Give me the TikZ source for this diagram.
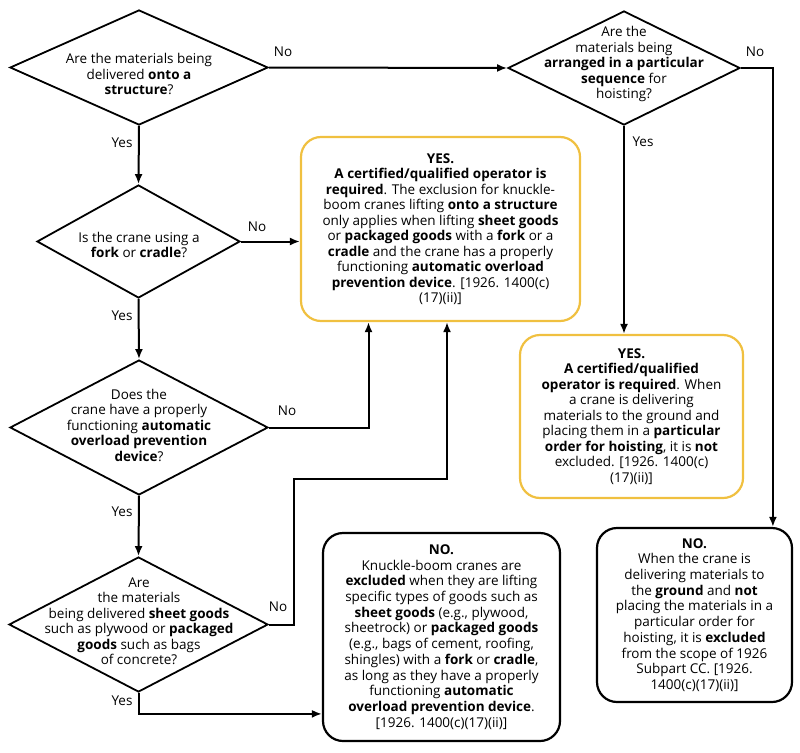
\documentclass[tikz,border=0pt]{standalone}
\usepackage{fontspec}
\setmainfont{Open Sans}
\usetikzlibrary{shapes.geometric,arrows.meta}
\definecolor{answeryellow}{RGB}{240,192,64}

\begin{document}
\begin{tikzpicture}[x=1pt,y=-1pt,line width=2pt,
    decision/.style={draw,diamond,inner sep=0pt,line width=1.8pt},
    qtext/.style={align=center,inner sep=0pt,font=\fontsize{13.5}{15.5}\selectfont},
    yesbox/.style={draw=answeryellow,line width=2.2pt,rounded corners=20pt,align=center,inner sep=0pt,font=\fontsize{13.5}{15.5}\selectfont},
    nobox/.style={draw,line width=2.2pt,rounded corners=20pt,align=center,inner sep=0pt,font=\fontsize{13.5}{15.7}\selectfont},
    flow/.style={-{Latex[length=10pt,width=8pt]}},
    lbl/.style={inner sep=0pt,font=\fontsize{13.5}{15}\selectfont}]
  \useasboundingbox (0,0) rectangle (800,752);

  % decisions
  \node[decision,minimum width=258pt,minimum height=115pt] (q1) at (139,67.5) {};
  \node[decision,minimum width=203pt,minimum height=113pt] (q2) at (138.5,241.5) {};
  \node[decision,minimum width=258pt,minimum height=135pt] (q3) at (139,427.5) {};
  \node[decision,minimum width=259pt,minimum height=135pt] (q4) at (138.5,624.5) {};
  \node[decision,minimum width=232pt,minimum height=114pt] (q5) at (624,68) {};

  \node[qtext] (q1t) at (139,74) {Are the materials being\\ delivered \textbf{onto a}\\ \textbf{structure}?};
  \node[qtext] (q2t) at (139,245) {Is the crane using a\\ \textbf{fork} or \textbf{cradle}?};
  \node[qtext] (q3t) at (139,425) {Does the\\ crane have a properly\\ functioning \textbf{automatic}\\ \textbf{overload prevention}\\ \textbf{device}?};
  \node[qtext] (q4t) at (139,621) {Are\\ the materials\\ being delivered \textbf{sheet goods}\\ such as plywood or \textbf{packaged}\\ \textbf{goods} such as bags\\ of concrete?};
  \node[qtext] (q5t) at (624,64) {Are the\\ materials being\\ \textbf{arranged in a particular}\\ \textbf{sequence} for\\ hoisting?};

  % answers
  \node[yesbox,minimum width=279pt,minimum height=184pt] (yes1) at (440.5,229) {\textbf{YES.}\\ \textbf{A certified/qualified operator is}\\ \textbf{required}. The exclusion for knuckle-\\ boom cranes lifting \textbf{onto a structure}\\ only applies when lifting \textbf{sheet goods}\\ or \textbf{packaged goods} with a \textbf{fork} or a\\ \textbf{cradle} and the crane has a properly\\ functioning \textbf{automatic overload}\\ \textbf{prevention device}. {[}1926. 1400(c)\\ (17)(ii){]}};
  \node[yesbox,minimum width=223pt,minimum height=163pt] (yes2) at (631.5,416.5) {\textbf{YES.}\\ \textbf{A certified/qualified}\\ \textbf{operator is required}. When\\ a crane is delivering\\ materials to the ground and\\ placing them in a \textbf{particular}\\ \textbf{order for hoisting}, it is \textbf{not}\\ excluded. {[}1926. 1400(c)\\ (17)(ii){]}};
  \node[nobox,minimum width=237pt,minimum height=208pt] (no1) at (441.5,637) {\textbf{NO.}\\ Knuckle-boom cranes are\\ \textbf{excluded} when they are lifting\\ specific types of goods such as\\ \textbf{sheet goods} (e.g., plywood,\\ sheetrock) or \textbf{packaged goods}\\ (e.g., bags of cement, roofing,\\ shingles) with a \textbf{fork} or \textbf{cradle},\\ as long as they have a properly\\ functioning \textbf{automatic}\\ \textbf{overload prevention device}.\\ {[}1926. 1400(c)(17)(ii){]}};
  \node[nobox,minimum width=195pt,minimum height=174pt] (no2) at (694.5,615) {\textbf{NO.}\\ When the crane is\\ delivering materials to\\ the \textbf{ground} and \textbf{not}\\ placing the materials in a\\ particular order for\\ hoisting, it is \textbf{excluded}\\ from the scope of 1926\\ Subpart CC. {[}1926.\\ 1400(c)(17)(ii){]}};

  % connectors
  \coordinate (in1) at (368.5,0);
  \coordinate (bend) at (447,479);
  \draw[flow] (q1.east) -- (q5.west);
  \draw[flow] (q1.south) -- (q2.north);
  \draw[flow] (q2.east) -- (q2.east -| yes1.west);
  \draw[flow] (q2.south) -- (q3.north);
  \draw[flow] (q3.east) -| (in1 |- yes1.south);
  \draw[flow] (q3.south) -- (q4.north);
  \draw[flow] (q4.east) -- ++(25,0) |- (bend) -- (bend |- yes1.south);
  \draw[flow] (q4.south) -- ++(0,21) coordinate (yb) -- (yb -| no1.west);
  \draw[flow] (q5.south) -- (q5.south |- yes2.north);
  \draw[flow] (q5.east) -- ++(32,0) coordinate (rb) -- (rb |- no2.north);

  % labels
  \node[lbl] (l1n) at (283,52) {No};
  \node[lbl] (l1y) at (122,143) {Yes};
  \node[lbl] (l2n) at (257,227) {No};
  \node[lbl] (l2y) at (122,316) {Yes};
  \node[lbl] (l3n) at (287,411) {No};
  \node[lbl] (l3y) at (122,512) {Yes};
  \node[lbl] (l4n) at (278,607) {No};
  \node[lbl] (l4y) at (122,701) {Yes};
  \node[lbl] (l5n) at (755,52) {No};
  \node[lbl] (l5y) at (643,142) {Yes};
\end{tikzpicture}
\end{document}
